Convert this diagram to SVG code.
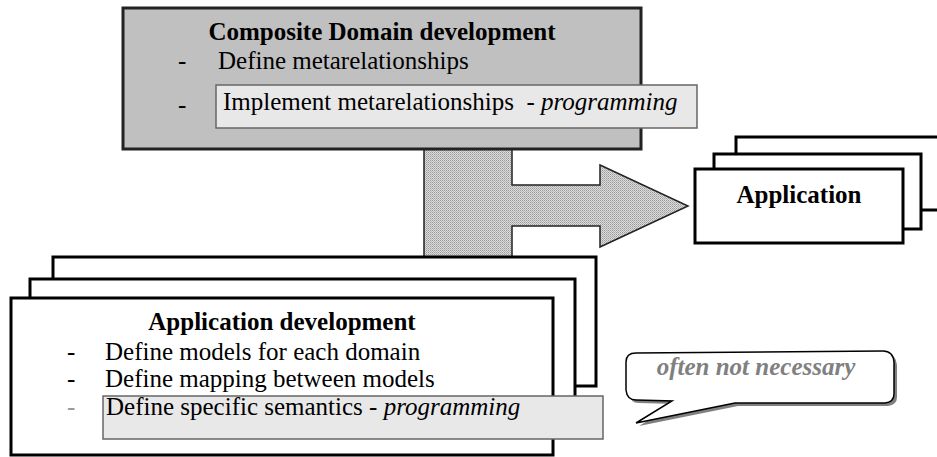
<svg xmlns="http://www.w3.org/2000/svg" width="937" height="457" viewBox="0 0 937 457">
  <defs>
    <!-- fine dither used for the big flow arrow -->
    <pattern id="dither" width="2" height="2" patternUnits="userSpaceOnUse">
      <rect width="2" height="2" fill="#dcdcdc"/>
      <rect width="1" height="1" fill="#9a9a9a"/>
      <rect x="1" y="1" width="1" height="1" fill="#b4b4b4"/>
    </pattern>
    <filter id="soft" x="-5%" y="-5%" width="115%" height="130%">
      <feGaussianBlur stdDeviation="0.6"/>
    </filter>
  </defs>
  <style>
    text { font-family: 'Liberation Serif', 'DejaVu Serif', serif; font-size: 25px; fill: #000; white-space: pre; }
    .title { font-weight: bold; text-anchor: middle; }
    .it { font-style: italic; }
    .dim { fill: #999; }
    .frame { fill: #fff; stroke: #000; stroke-width: 3; }
    .panel { fill: #c0c0c0; stroke: #222; stroke-width: 3; }
    .hl { fill: #e8e8e8; stroke: #666; stroke-width: 1.5; }
    .note { font-weight: bold; font-style: italic; fill: #808080; text-anchor: middle; }
  </style>
  <rect width="937" height="457" fill="#fff"/>

  <!-- flow arrow from the composite domain down into application development and out to the application -->
  <g id="connectors">
    <path d="M424,149 L512,149 L512,185 L600,185 L600,165 L688,206 L600,247 L600,226 L512,226 L512,257 L424,257 Z"
          fill="url(#dither)" stroke="#222" stroke-width="1.5" stroke-linejoin="miter"/>
  </g>

  <g id="node-composite">
    <rect class="panel" x="123" y="8" width="518" height="141"/>
    <text class="title" x="382" y="40">Composite Domain development</text>
    <text x="178" y="69">-</text>
    <text x="218" y="69">Define metarelationships</text>
    <text x="178" y="113">-</text>
    <rect class="hl" x="216" y="85" width="481" height="43"/>
    <text x="223" y="110">Implement metarelationships  - <tspan class="it">programming</tspan></text>
  </g>

  <g id="node-application">
    <rect class="frame" x="736" y="137" width="210" height="73"/>
    <rect class="frame" x="714" y="154" width="207" height="75"/>
    <rect class="frame" x="695" y="169" width="208" height="74"/>
    <text class="title" x="799" y="203">Application</text>
  </g>

  <g id="node-appdev">
    <rect class="frame" x="53" y="257" width="543" height="129"/>
    <rect class="frame" x="30" y="279" width="545" height="130"/>
    <rect class="frame" x="11" y="298" width="542" height="157"/>
    <text class="title" x="282" y="330">Application development</text>
    <text x="67" y="360">-</text>
    <text x="105" y="360">Define models for each domain</text>
    <text x="67" y="387">-</text>
    <text x="105" y="387">Define mapping between models</text>
    <text class="dim" x="67" y="415">-</text>
    <rect class="hl" x="103" y="396" width="500" height="43"/>
    <text x="106" y="415">Define specific semantics - <tspan class="it">programming</tspan></text>
  </g>

  <g id="node-note">
    <path d="M639,356 Q629,356 629,365 L629,393 Q630,403 639,403 L675,404 L639,426 L738,406 L888,406 Q897,405 897,397 L897,365 Q896,354 886,354 Z"
          fill="#808080" filter="url(#soft)"/>
    <path d="M636,353 Q626,353 626,362 L626,390 Q627,400 636,400 L672,401 L636,423 L735,403 L885,403 Q894,402 894,394 L894,362 Q893,351 883,351 Z"
          fill="#fff" stroke="#000" stroke-width="1.5" stroke-linejoin="miter"/>
    <text class="note" x="756" y="375">often not necessary</text>
  </g>
</svg>
